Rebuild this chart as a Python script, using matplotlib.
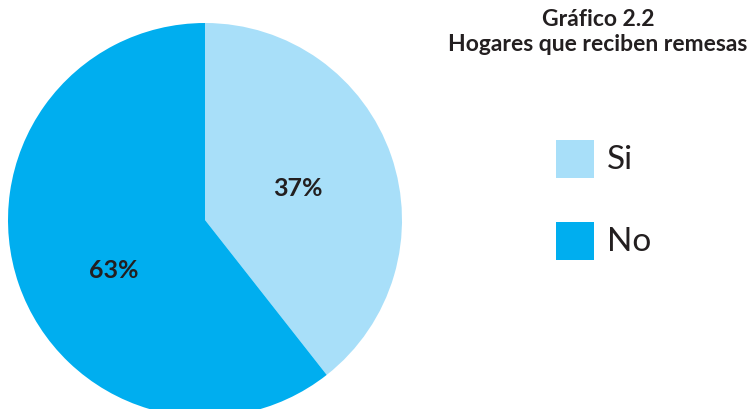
import matplotlib.pyplot as plt
from matplotlib.patches import Rectangle

categories = ["Si", "No"]
# slice sizes as drawn in the reference (the printed labels differ slightly)
shares = [39.4, 60.6]
pct_labels = ["37%", "63%"]
colors = ["#A8DFF9", "#00AEEF"]
title = "Gráfico 2.2\nHogares que reciben remesas"

plt.rcParams['font.family'] = ['Lato', 'DejaVu Sans']
txt = "#231F20"
H = 410

fig = plt.figure(figsize=(7.5, 4.1), dpi=100)
ax = fig.add_axes([0, 0, 1, 1])

wedges, texts = ax.pie(shares, colors=colors, startangle=90, counterclock=False,
                       center=(205, H - 221), radius=197, labels=pct_labels,
                       labeldistance=0.5, frame=True,
                       textprops=dict(fontsize=18, fontweight='bold', color=txt))
for t in texts:
    t.set_ha('center')
    t.set_va('center')
# nudge the 63% label down a little, as in the reference
x, y = texts[1].get_position()
texts[1].set_position((x + 2, y - 17))

ax.set_xlim(0, 750)
ax.set_ylim(0, H)
ax.set_aspect('equal')
ax.axis('off')

ax.text(598, H - 32, title, ha='center', va='center',
        fontsize=16.5, fontweight='bold', color=txt, linespacing=1.2)

# legend: coloured squares with labels
for i, (lab, c) in enumerate(zip(categories, colors)):
    top = 141 + i * 82
    ax.add_patch(Rectangle((556, H - top - 38), 38, 38, facecolor=c, edgecolor='none'))
    ax.text(607, H - top - 19, lab, ha='left', va='center', fontsize=24, color=txt)

fig.savefig("out.png", dpi=100)
